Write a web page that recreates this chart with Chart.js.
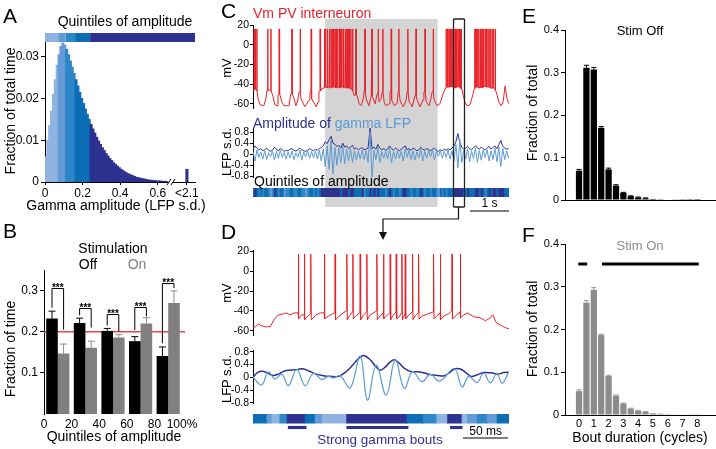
<!DOCTYPE html>
<html>
<head>
<meta charset="utf-8">
<script src="https://cdn.jsdelivr.net/npm/chart.js"></script>
<style>
  body { margin: 0; width: 716px; height: 449px; position: relative; background: #fff; overflow: hidden;
         font-family: 'Liberation Sans', Arial, Helvetica, sans-serif; color: #000; }
  canvas { position: absolute; }
  .t { position: absolute; white-space: nowrap; line-height: 1; transform: translate(-50%, -50%); }
  .l { position: absolute; white-space: nowrap; line-height: 1; }
  .v { position: absolute; white-space: nowrap; line-height: 1; transform: translate(-50%, -50%) rotate(-90deg); }
  .p { position: absolute; font-size: 21px; line-height: 1; }
</style>
</head>
<body>
<canvas id="cA" width="210" height="200" style="left:0;top:0"></canvas>
<canvas id="cB" width="205" height="229" style="left:0;top:220px"></canvas>
<canvas id="cC1" width="290" height="101" style="left:220px;top:15px"></canvas>
<canvas id="cC2" width="290" height="70" style="left:220px;top:116px"></canvas>
<canvas id="cC3" width="290" height="29" style="left:220px;top:186px"></canvas>
<canvas id="cD1" width="290" height="100" style="left:220px;top:243px"></canvas>
<canvas id="cD2" width="290" height="68" style="left:220px;top:343px"></canvas>
<canvas id="cD3" width="290" height="38" style="left:220px;top:411px"></canvas>
<canvas id="cE" width="246" height="215" style="left:470px;top:0"></canvas>
<canvas id="cF" width="246" height="229" style="left:470px;top:220px"></canvas>

<svg style="position:absolute;left:0;top:0" width="716" height="449">
  <polyline points="458.5,207 458.5,219 383,219 383,233" fill="none" stroke="#111" stroke-width="1.2"/>
  <polygon points="379,232 387,232 383,240" fill="#111"/>
</svg>

<div class="p" style="left:3px;top:5px">A</div>
<div class="t" style="left:125px;top:21px;font-size:14px">Quintiles of amplitude</div>
<div class="t" style="left:116px;top:205px;font-size:14px">Gamma amplitude (LFP s.d.)</div>
<div class="v" style="left:10px;top:111px;font-size:14px">Fraction of total time</div>

<div class="p" style="left:3px;top:220px">B</div>
<div class="t" style="left:113px;top:248px;font-size:14px">Stimulation</div>
<div class="t" style="left:88px;top:264px;font-size:14px">Off</div>
<div class="t" style="left:137px;top:264px;font-size:14px;color:#808080">On</div>
<div class="v" style="left:10px;top:349px;font-size:14px">Fraction of time</div>
<div class="t" style="left:114px;top:436px;font-size:14px">Quintiles of amplitude</div>

<div class="p" style="left:221px;top:0">C</div>
<div class="l" style="left:253px;top:6px;font-size:14px;color:#e8222a">Vm PV interneuron</div>
<div class="v" style="left:226px;top:68px;font-size:13px">mV</div>
<div class="l" style="left:253px;top:116px;font-size:14px;color:#2e3192">Amplitude of <span style="color:#5b9bd5">gamma LFP</span></div>
<div class="v" style="left:226px;top:152px;font-size:13px">LFP s.d.</div>
<div class="l" style="left:254px;top:174px;font-size:14px">Quintiles of amplitude</div>

<div class="p" style="left:221px;top:221px">D</div>
<div class="v" style="left:226px;top:293px;font-size:13px">mV</div>
<div class="v" style="left:226px;top:379px;font-size:13px">LFP s.d.</div>
<div class="t" style="left:380px;top:440px;font-size:13.5px;color:#2e3192">Strong gamma bouts</div>

<div class="p" style="left:522px;top:5px">E</div>
<div class="t" style="left:640px;top:30px;font-size:13px">Stim Off</div>
<div class="v" style="left:532px;top:113px;font-size:14px">Fraction of total</div>
<div class="p" style="left:522px;top:224px">F</div>
<div class="t" style="left:640px;top:245px;font-size:13px;color:#8c8c8c">Stim On</div>
<div class="v" style="left:532px;top:329px;font-size:14px">Fraction of total</div>
<div class="t" style="left:640px;top:437px;font-size:14px">Bout duration (cycles)</div>

<script>
// ---------- data ----------
const quintileColors = ['#8fb4e2', '#649bd7', '#2d87c8', '#0c6eb4', '#2d3291'];
const quintileEdges = [0, 0.07, 0.11, 0.16, 0.24];   // lower edge of each quintile (LFP s.d.)

// A: distribution of gamma amplitude, 0.01 s.d. bins
const ampBinWidth = 0.01;
const ampFrac = [
  0.006, 0.010, 0.0135, 0.017, 0.021, 0.0245, 0.028, 0.0305, 0.0325, 0.0333,
  0.0328, 0.0318, 0.0305, 0.029, 0.0275, 0.026, 0.0245, 0.023, 0.0215, 0.020,
  0.0188, 0.0175, 0.0162, 0.015, 0.0138, 0.0127, 0.0117, 0.0107, 0.0098, 0.009,
  0.0082, 0.0075, 0.0068, 0.0062, 0.0056, 0.0051, 0.0046, 0.0042, 0.0038, 0.0034,
  0.0030, 0.0027, 0.0024, 0.0021, 0.0019, 0.0017, 0.0015, 0.0013, 0.0011, 0.0010,
  0.0009, 0.0008, 0.0007, 0.0006, 0.0005, 0.0004, 0.0004, 0.0003, 0.0003, 0.0002,
  0.0002, 0.0002, 0.0001, 0.0001, 0.0001
];
const ampTailFrac = 0.003;          // everything up to 2.1 s.d.
const ampTailX = 0.755;             // axis slot used for the "<2.1" bin
const ampBreakX = 0.67;
const ampTicks = [0, 0.2, 0.4, 0.6, ampTailX];
const ampTickLabels = ['0', '0.2', '0.4', '0.6', '<2.1'];

// B: fraction of time in each quintile
const quintileLabels = ['0-20%', '20-40%', '40-60%', '60-80%', '80-100%'];
const stimOff = [0.232, 0.221, 0.202, 0.177, 0.141];
const stimOffErr = [0.018, 0.012, 0.006, 0.011, 0.022];
const stimOn = [0.147, 0.161, 0.186, 0.220, 0.270];
const stimOnErr = [0.023, 0.016, 0.007, 0.014, 0.029];
const chanceLevel = 0.2;
const sigTop = [0.306, 0.257, 0.243, 0.26, 0.318];
const sigLegOff = [0.258, 0.24, 0.215, 0.204, 0.172];
const sigLegOn = [0.205, 0.21, 0.2, 0.237, 0.306];

// C: 6.56 s of Vm (s, mV) and gamma LFP
const vmPeakC = 16;
const vmCBase = [
  [0.00,-46],[0.13,-55],[0.18,-61],[0.28,-62],[0.33,-55],[0.36,-47],[0.42,-46],[0.51,-52],[0.56,-61],[0.62,-62],
  [0.64,-52],[0.69,-50],[0.74,-58],[0.79,-62],[0.92,-62],[0.97,-50],[1.03,-52],[1.10,-62],[1.15,-56],[1.18,-48],
  [1.23,-55],[1.33,-63],[1.44,-56],[1.46,-48],[1.51,-55],[1.62,-63],[1.67,-58],[1.69,-48],[1.74,-47],[1.79,-44],
  [1.90,-42],[2.00,-44],[2.10,-42],[2.20,-43],[2.30,-42],[2.40,-44],[2.50,-45],[2.56,-47],[2.60,-52],[2.67,-52],
  [2.72,-60],[2.77,-62],[2.82,-56],[2.85,-47],[2.90,-55],[2.97,-62],[3.03,-52],[3.08,-55],[3.13,-60],[3.18,-50],
  [3.23,-58],[3.28,-55],[3.31,-48],[3.36,-58],[3.41,-62],[3.49,-60],[3.51,-48],[3.56,-56],[3.62,-62],[3.69,-60],
  [3.72,-48],[3.77,-57],[3.85,-63],[3.92,-57],[3.95,-48],[4.00,-58],[4.08,-63],[4.15,-52],[4.21,-57],[4.28,-63],
  [4.36,-56],[4.38,-48],[4.44,-58],[4.51,-62],[4.56,-55],[4.59,-48],[4.64,-56],[4.72,-62],[4.79,-60],[4.87,-50],
  [4.92,-45],[5.00,-43],[5.10,-42],[5.20,-44],[5.30,-43],[5.36,-46],[5.39,-52],[5.43,-58],[5.48,-62],[5.56,-61],
  [5.64,-50],[5.67,-45],[5.75,-43],[5.85,-44],[5.95,-42],[6.05,-43],[6.15,-44],[6.22,-46],[6.26,-52],[6.30,-58],
  [6.36,-62],[6.41,-58],[6.46,-42],[6.51,-55],[6.56,-60]
];
const vmCSpikes = [   // [time s, foot mV]
  [0.03,-46],[0.06,-45],[0.10,-47],[0.38,-46],[0.46,-47],[0.67,-50],[1.00,-50],[1.21,-48],[1.49,-48],[1.72,-47],
  [1.83,-44],[1.86,-43],[1.90,-43],[1.92,-44],[1.96,-43],[2.00,-44],[2.03,-43],[2.06,-43],[2.10,-43],[2.13,-44],
  [2.17,-43],[2.21,-43],[2.23,-44],[2.27,-43],[2.31,-43],[2.33,-44],[2.37,-43],[2.41,-44],[2.44,-44],[2.47,-44],
  [2.51,-45],[2.55,-46],
  [2.64,-50],[2.87,-48],[3.05,-52],[3.21,-50],[3.33,-48],[3.54,-48],[3.74,-48],[3.97,-48],[4.18,-52],[4.41,-48],[4.62,-48],
  [4.95,-44],[4.98,-43],[5.02,-43],[5.05,-42],[5.08,-43],[5.12,-43],[5.15,-44],[5.18,-43],[5.21,-43],[5.25,-43],
  [5.28,-43],[5.31,-44],[5.34,-45],
  [5.69,-44],[5.73,-43],[5.76,-43],[5.79,-44],[5.83,-43],[5.87,-44],[5.91,-43],[5.95,-42],[5.98,-43],[6.02,-43],
  [6.05,-43],[6.09,-44],[6.13,-44],[6.17,-44],[6.21,-46]
];
const lfpCStep = 0.05;   // s per sample
const lfpCEnv = [
  0.18,0.30,0.22,0.15,0.20,0.12,0.16,0.22,0.14,0.10, 0.15,0.25,0.18,0.12,0.20,0.16,0.10,0.14,0.12,0.18,
  0.20,0.14,0.11,0.16,0.22,0.15,0.12,0.10,0.14,0.20, 0.16,0.12,0.18,0.14,0.20,0.24,0.30,0.45,0.38,0.52,
  0.65,0.40,0.35,0.28,0.32,0.22,0.40,0.25,0.30,0.20, 0.26,0.32,0.18,0.22,0.16,0.20,0.24,0.15,0.18,0.22,
  0.95,0.20,0.25,0.18,0.35,0.22,0.16,0.20,0.14,0.18, 0.30,0.20,0.15,0.22,0.17,0.12,0.18,0.24,0.30,0.16,
  0.20,0.14,0.22,0.18,0.12,0.16,0.25,0.18,0.14,0.20, 0.16,0.12,0.18,0.22,0.14,0.10,0.16,0.12,0.18,0.14,
  0.20,0.16,0.22,0.30,0.45,0.75,0.40,0.25,0.18,0.22, 0.28,0.20,0.16,0.22,0.30,0.24,0.18,0.26,0.20,0.15,
  0.22,0.28,0.18,0.24,0.30,0.20,0.35,0.50,0.28,0.22, 0.18,0.20
];
const lfpCRaw = [
  0.10,-0.25,0.15,-0.12,0.08,-0.18,0.12,-0.20,0.05,-0.10, 0.12,-0.22,0.10,-0.15,0.14,-0.12,0.06,-0.18,0.08,-0.14,
  0.12,-0.20,0.05,-0.12,0.15,-0.22,0.08,-0.10,0.12,-0.16, 0.10,-0.14,0.12,-0.18,0.15,-0.25,0.20,-0.45,0.30,-0.55,
  0.50,-0.72,0.25,-0.40,0.22,-0.30,0.30,-0.35,0.18,-0.25, 0.20,-0.30,0.12,-0.22,0.10,-0.18,0.15,-0.20,0.12,-0.30,
  0.80,-0.90,0.15,-0.20,0.25,-0.30,0.10,-0.15,0.12,-0.18, 0.22,-0.32,0.10,-0.18,0.12,-0.15,0.10,-0.25,0.20,-0.12,
  0.15,-0.20,0.12,-0.22,0.08,-0.14,0.18,-0.25,0.10,-0.15, 0.12,-0.10,0.14,-0.20,0.10,-0.08,0.12,-0.15,0.10,-0.12,
  0.15,-0.18,0.12,-0.25,0.35,-0.50,0.55,-0.30,0.12,-0.18, 0.20,-0.28,0.12,-0.16,0.22,-0.30,0.14,-0.22,0.15,-0.12,
  0.16,-0.25,0.12,-0.20,0.22,-0.28,0.25,-0.45,0.20,-0.20, 0.12,-0.15
];
const shadeC = [1.85, 4.73];     // stimulation period (s)
const boxC = [5.12, 5.41];       // window expanded in D (s)
const scaleBarC = [5.56, 1];     // start, length (s)

// D: 284 ms expanded window (ms, mV)
const vmPeakD = 17;
const vmDBase = [
  [0,-57],[3,-56],[6,-53],[9,-55],[14,-56],[19,-56],[24,-48],[28,-44],[34,-43],[37,-42],[41,-44],[46,-42],
  [54,-44],[61,-45],[70,-44],[75,-42],[84,-45],[88,-43],[96,-45],[100,-42],[107,-45],[114,-45],[122,-45],
  [130,-44],[134,-42],[141,-45],[148,-45],[155,-45],[162,-46],[172,-45],[180,-45],[188,-45],[194,-43],[197,-42],
  [204,-45],[212,-45],[217,-43],[225,-45],[234,-44],[238,-42],[245,-46],[252,-47],[258,-50],[263,-47],[266,-44],
  [270,-52],[276,-55],[280,-57],[284,-58]
];
const vmDSpikes = [   // [time ms, pre mV, after-hyperpolarisation mV]
  [50.3,-42,-48],[57.0,-44,-49],[64.1,-43,-49],[79.2,-42,-48],[91.1,-42,-49],[104.1,-40,-49],[110.8,-41,-48],
  [118.9,-42,-49],[126.3,-41,-49],[137.4,-40,-49],[144.8,-42,-48],[152.2,-42,-49],[158.9,-41,-48],[165.2,-42,-49],
  [168.9,-43,-48],[177.0,-41,-49],[183.7,-42,-48],[200.3,-41,-48],[207.8,-42,-49],[220.8,-40,-48],[230.0,-41,-47]
];
const lfpDEnv = [
  [0,0.00],[5,0.15],[10,0.19],[16,0.14],[22,0.06],[28,0.10],[35,0.20],[42,0.23],[50,0.25],[55,0.27],[62,0.20],
  [70,0.10],[78,0.05],[85,0.03],[95,0.03],[102,0.15],[108,0.30],[114,0.50],[120,0.66],[124,0.68],[130,0.55],
  [136,0.35],[141,0.22],[147,0.33],[152,0.48],[157,0.55],[162,0.45],[168,0.28],[175,0.18],[185,0.17],[195,0.10],
  [205,0.06],[212,0.05],[218,0.15],[224,0.27],[230,0.26],[236,0.15],[242,0.03],[248,0.07],[256,0.15],[264,0.14],
  [272,0.10],[278,0.15],[284,0.16]
];
const lfpDRaw = [
  [0,0.0],[9.6,-0.24],[17,0.17],[24.4,-0.06],[31.9,0.10],[39.3,-0.26],[48.5,0.25],[57.8,-0.26],[67,0.12],
  [76.3,-0.07],[83.7,0.03],[89.3,-0.02],[96.7,0.05],[107.8,-0.33],[118.9,0.66],[127,-0.72],[136.7,0.38],
  [147.8,-0.56],[157.8,0.55],[167.8,-0.35],[177,0.18],[187.4,-0.14],[196.7,0.09],[207,-0.12],[223.3,0.27],
  [231.9,-0.30],[239.3,0.03],[248.5,-0.17],[255.9,0.13],[263.3,-0.17],[270.7,0.12],[276.3,-0.19],[283.7,0.17]
];
const dQuintileSegs = [   // [start ms, end ms, quintile 0-4]
  [0,15.6,3],[15.6,21,1],[21,30,0],[30,38,2],[38,58,4],[58,69,3],[69,77,1],[77,104,0],[104,171,4],
  [171,189,3],[189,204,2],[204,216,0],[216,232,4],[232,238,0],[238,249,1],[249,260,2],[260,271,1],[271,284,3]
];
const dBouts = [[39,59],[104,172],[219,232]];
const scaleBarD = [233, 50];

// E, F: bout durations (cycles)
const boutBins = [0,0.5,1,1.5,2,2.5,3,3.5,4,4.5,5,5.5,6,6.5,7,7.5,8];
const boutOff = [0.069,0.311,0.307,0.170,0.072,0.034,0.017,0.009,0.006,0.004,0.0025,0.0018,0.0012,0.0008,0.0005,0.0003,0.0002];
const boutOffErr = [0.003,0.006,0.005,0.003,0.003,0.002,0.001,0.001,0.001,0.001,0,0,0,0,0,0,0];
const boutOn = [0.056,0.263,0.293,0.187,0.091,0.045,0.027,0.015,0.010,0.007,0.004,0.003,0.002,0.0015,0.001,0.0008,0.0006];
const boutOnErr = [0.003,0.005,0.005,0.002,0.002,0.002,0.001,0.001,0.001,0.001,0,0,0,0,0,0,0];
const boutOnSig = [[-0.05,0.55],[1.55,8.1]];
const boutOnSigLevel = 0.353;

// ---------- setup ----------
const FONT = "'Liberation Sans', Arial, Helvetica, sans-serif";
Chart.defaults.font.family = FONT;
Chart.defaults.color = '#000';
Chart.defaults.animation = false;
Chart.defaults.events = [];
Chart.defaults.plugins.legend.display = false;
Chart.defaults.plugins.tooltip.enabled = false;

const RED = '#e8222a', NAVY = '#2e3192', LIGHT = '#5b9bd5';

function quintileOf(v) {
  let q = 0;
  quintileEdges.forEach((e, i) => { if (v >= e) q = i; });
  return q;
}

function leftAxis(width, min, max, ticks, size, tickLen, pad) {
  return {
    min, max,
    afterBuildTicks: s => { s.ticks = ticks.map(value => ({ value })); },
    afterFit: s => { s.width = width; },
    ticks: { font: { size }, padding: pad == null ? 2 : pad, autoSkip: false, callback: v => String(v) },
    grid: { drawOnChartArea: false, tickLength: tickLen || 4, color: '#000' },
    border: { color: '#000' }
  };
}

function hiddenX(max) { return { type: 'linear', min: 0, max, display: false, offset: false }; }

function traceSet(points, color, width, tension) {
  return { data: points, borderColor: color, borderWidth: width, pointRadius: 0, tension: tension || 0 };
}

// grey stimulation shading + window box in C
function cDecor(top, bottom, edge) {
  return {
    id: 'cDecor',
    beforeDraw(chart) {
      const { ctx, scales: { x } } = chart;
      const x0 = x.getPixelForValue(shadeC[0]), x1 = x.getPixelForValue(shadeC[1]);
      ctx.save();
      ctx.fillStyle = '#d4d4d4';
      ctx.fillRect(x0, top, x1 - x0, bottom - top);
      ctx.restore();
    },
    afterDraw(chart) {
      const { ctx, scales: { x } } = chart;
      const x0 = Math.round(x.getPixelForValue(boxC[0])) + 0.5;
      const x1 = Math.round(x.getPixelForValue(boxC[1])) + 0.5;
      ctx.save();
      ctx.strokeStyle = '#222';
      ctx.lineWidth = 1.3;
      ctx.beginPath();
      ctx.moveTo(x0, top); ctx.lineTo(x0, bottom);
      ctx.moveTo(x1, top); ctx.lineTo(x1, bottom);
      if (edge === 'top') { ctx.moveTo(x0, top); ctx.lineTo(x1, top); }
      if (edge === 'bottom') { ctx.moveTo(x0, bottom); ctx.lineTo(x1, bottom); }
      ctx.stroke();
      ctx.restore();
    }
  };
}

function scaleBar(bar, label, yBar, yText) {
  return {
    id: 'scaleBar',
    afterDraw(chart) {
      const { ctx, scales: { x } } = chart;
      const x0 = x.getPixelForValue(bar[0]), x1 = x.getPixelForValue(bar[0] + bar[1]);
      ctx.save();
      ctx.strokeStyle = '#000';
      ctx.lineWidth = 1.2;
      ctx.beginPath(); ctx.moveTo(x0, yBar); ctx.lineTo(x1, yBar); ctx.stroke();
      ctx.fillStyle = '#000';
      ctx.font = '12px ' + FONT;
      ctx.textAlign = 'center';
      ctx.textBaseline = 'middle';
      ctx.fillText(label, (x0 + x1) / 2, yText);
      ctx.restore();
    }
  };
}

// ---------- A ----------
const ampCenters = ampFrac.map((_, i) => i * ampBinWidth + ampBinWidth / 2);
const histPoints = ampCenters.map((x, i) => ({ x, y: ampFrac[i] })).concat([{ x: ampTailX, y: ampTailFrac }]);
const histColors = ampCenters.map(c => quintileColors[quintileOf(c)]).concat([quintileColors[4]]);

const stripA = {
  id: 'stripA',
  afterDraw(chart) {
    const { ctx, chartArea, scales: { x } } = chart;
    ctx.save();
    quintileEdges.forEach((e, i) => {
      const x0 = x.getPixelForValue(e);
      const x1 = i < 4 ? x.getPixelForValue(quintileEdges[i + 1]) : chartArea.right;
      ctx.fillStyle = quintileColors[i];
      ctx.fillRect(x0, chartArea.top - 9, x1 - x0, 9);
    });
    const bx = x.getPixelForValue(ampBreakX), by = chartArea.bottom;
    ctx.fillStyle = '#fff';
    ctx.fillRect(bx - 2, by - 2, 4, 4);
    ctx.strokeStyle = '#000';
    ctx.lineWidth = 1;
    ctx.beginPath();
    [-2, 2].forEach(d => { ctx.moveTo(bx + d - 2, by + 3); ctx.lineTo(bx + d + 2, by - 3); });
    ctx.stroke();
    ctx.restore();
  }
};

new Chart(document.getElementById('cA'), {
  type: 'bar',
  data: { datasets: [{ data: histPoints, backgroundColor: histColors, barPercentage: 1, categoryPercentage: 1, inflateAmount: 0.6 }] },
  options: {
    responsive: false,
    layout: { padding: { top: 42, right: 15, bottom: 2, left: 0 } },
    scales: {
      x: {
        type: 'linear', min: 0, max: 0.798, offset: false,
        afterBuildTicks: s => { s.ticks = ampTicks.map(value => ({ value })); },
        afterFit: s => { s.height = 16; },
        ticks: { font: { size: 12 }, padding: 1, maxRotation: 0, autoSkip: false, callback: (v, i) => ampTickLabels[i] },
        grid: { drawOnChartArea: false, tickLength: 3, color: '#000', offset: false },
        border: { color: '#000' }
      },
      y: leftAxis(45, 0, 0.0336, [0, 0.01, 0.02, 0.03], 12)
    }
  },
  plugins: [stripA]
});

// ---------- B ----------
const bDecor = {
  id: 'bDecor',
  beforeDatasetsDraw(chart) {
    const { ctx, chartArea, scales: { y } } = chart;
    const yc = y.getPixelForValue(chanceLevel);
    ctx.save();
    ctx.strokeStyle = '#e5484d';
    ctx.lineWidth = 1.5;
    ctx.beginPath(); ctx.moveTo(chartArea.left, yc); ctx.lineTo(chartArea.right + 3, yc); ctx.stroke();
    ctx.restore();
  },
  afterDatasetsDraw(chart) {
    const { ctx, scales: { y } } = chart;
    const off = chart.getDatasetMeta(0).data, on = chart.getDatasetMeta(1).data;
    ctx.save();
    ctx.lineWidth = 1;
    [[off, stimOff, stimOffErr, '#000'], [on, stimOn, stimOnErr, '#8c8c8c']].forEach(([bars, vals, errs, col]) => {
      ctx.strokeStyle = col;
      ctx.beginPath();
      bars.forEach((b, i) => {
        const y0 = y.getPixelForValue(vals[i]), y1 = y.getPixelForValue(vals[i] + errs[i]);
        ctx.moveTo(b.x, y0); ctx.lineTo(b.x, y1);
        ctx.moveTo(b.x - 3.5, y1); ctx.lineTo(b.x + 3.5, y1);
      });
      ctx.stroke();
    });
    ctx.strokeStyle = '#000';
    ctx.fillStyle = '#000';
    ctx.font = 'bold 10px ' + FONT;
    ctx.textAlign = 'center';
    off.forEach((b, i) => {
      const xa = b.x, xb = on[i].x, yt = Math.round(y.getPixelForValue(sigTop[i])) + 0.5;
      ctx.beginPath();
      ctx.moveTo(xa, y.getPixelForValue(sigLegOff[i])); ctx.lineTo(xa, yt);
      ctx.lineTo(xb, yt); ctx.lineTo(xb, y.getPixelForValue(sigLegOn[i]));
      ctx.stroke();
      ctx.fillText('***', (xa + xb) / 2, yt + 2.5);
    });
    ctx.restore();
  }
};

new Chart(document.getElementById('cB'), {
  type: 'bar',
  data: {
    labels: quintileLabels,
    datasets: [
      { data: stimOff, backgroundColor: '#000', barPercentage: 1, categoryPercentage: 0.84 },
      { data: stimOn, backgroundColor: '#808080', barPercentage: 1, categoryPercentage: 0.84 }
    ]
  },
  options: {
    responsive: false,
    layout: { padding: { top: 50, right: 23, bottom: 19, left: 0 } },
    scales: {
      x: { display: false },
      xq: {
        type: 'linear', position: 'bottom', min: 0, max: 100, offset: false,
        afterBuildTicks: s => { s.ticks = [0, 20, 40, 60, 80, 100].map(value => ({ value })); },
        afterFit: s => { s.height = 16; },
        ticks: { font: { size: 12 }, padding: 3, maxRotation: 0, autoSkip: false, callback: v => v === 100 ? '100%' : String(v) },
        grid: { display: false, drawTicks: false, tickLength: 0, offset: false },
        border: { display: false }
      },
      y: leftAxis(44, 0, 0.35, [0.1, 0.2, 0.3], 12)
    }
  },
  plugins: [bDecor]
});

// ---------- C ----------
const vmCPoints = vmCBase.map(([x, y]) => ({ x, y }));
vmCSpikes.forEach(([t, foot]) => {
  vmCPoints.push({ x: t - 0.004, y: foot }, { x: t, y: vmPeakC }, { x: t + 0.004, y: foot });
});
vmCPoints.sort((a, b) => a.x - b.x);
const cEnd = 6.56;

new Chart(document.getElementById('cC1'), {
  type: 'line',
  data: { datasets: [traceSet(vmCPoints, RED, 1)] },
  options: {
    responsive: false,
    layout: { padding: { top: 10, right: 1, bottom: 3, left: 0 } },
    scales: { x: hiddenX(cEnd), y: leftAxis(33, -65, 20, [20, 0, -20, -40, -60], 10.5, 3, 1) }
  },
  plugins: [cDecor(4, 101, 'top')]
});

new Chart(document.getElementById('cC2'), {
  type: 'line',
  data: {
    datasets: [
      traceSet(lfpCRaw.map((y, i) => ({ x: i * lfpCStep, y })), LIGHT, 1),
      traceSet(lfpCEnv.map((y, i) => ({ x: i * lfpCStep, y })), NAVY, 1)
    ]
  },
  options: {
    responsive: false,
    layout: { padding: { top: 12, right: 1, bottom: 9, left: 0 } },
    scales: { x: hiddenX(cEnd), y: leftAxis(33, -0.83, 0.95, [0.8, 0.4, 0, -0.4, -0.8], 10.5, 3, 1) }
  },
  plugins: [cDecor(0, 70)]
});

new Chart(document.getElementById('cC3'), {
  type: 'bar',
  data: {
    datasets: [{
      data: lfpCEnv.map((v, i) => ({ x: [i * lfpCStep, (i + 1) * lfpCStep], y: 'q' })),
      backgroundColor: lfpCEnv.map(v => quintileColors[quintileOf(v)]),
      barPercentage: 1, categoryPercentage: 1, inflateAmount: 0.5
    }]
  },
  options: {
    responsive: false,
    indexAxis: 'y',
    layout: { padding: { top: 2, right: 1, bottom: 18, left: 33 } },
    scales: { x: hiddenX(cEnd), y: { type: 'category', labels: ['q'], display: false } }
  },
  plugins: [cDecor(0, 21, 'bottom'), scaleBar(scaleBarC, '1 s', 25, 18)]
});

// ---------- D ----------
const vmDPoints = vmDBase.map(([x, y]) => ({ x, y }));
vmDSpikes.forEach(([t, pre, post]) => {
  vmDPoints.push({ x: t - 0.3, y: pre }, { x: t, y: vmPeakD }, { x: t + 0.5, y: post });
});
vmDPoints.sort((a, b) => a.x - b.x);
const dEnd = 284;

new Chart(document.getElementById('cD1'), {
  type: 'line',
  data: { datasets: [traceSet(vmDPoints, RED, 1)] },
  options: {
    responsive: false,
    layout: { padding: { top: 7, right: 1, bottom: 3, left: 0 } },
    scales: { x: hiddenX(dEnd), y: leftAxis(33, -65, 21, [20, 0, -20, -40, -60], 10.5, 3, 1) }
  }
});

new Chart(document.getElementById('cD2'), {
  type: 'line',
  data: {
    datasets: [
      traceSet(lfpDRaw.map(([x, y]) => ({ x, y })), LIGHT, 1.2, 0.4),
      traceSet(lfpDEnv.map(([x, y]) => ({ x, y })), NAVY, 1.5, 0.4)
    ]
  },
  options: {
    responsive: false,
    layout: { padding: { top: 5, right: 1, bottom: 2, left: 0 } },
    scales: { x: hiddenX(dEnd), y: leftAxis(33, -0.83, 0.85, [0.8, 0.4, 0, -0.4, -0.8], 10.5, 3, 1) }
  }
});

new Chart(document.getElementById('cD3'), {
  type: 'bar',
  data: {
    datasets: [
      {
        data: dQuintileSegs.map(([a, b]) => ({ x: [a, b], y: 'strip' })),
        backgroundColor: dQuintileSegs.map(s => quintileColors[s[2]]),
        barPercentage: 1, categoryPercentage: 1, grouped: false, inflateAmount: 0.5
      },
      {
        data: dBouts.map(([a, b]) => ({ x: [a, b], y: 'bout' })),
        backgroundColor: NAVY, barThickness: 2.5, grouped: false
      }
    ]
  },
  options: {
    responsive: false,
    indexAxis: 'y',
    layout: { padding: { top: 3, right: 1, bottom: 17, left: 33 } },
    scales: { x: hiddenX(dEnd), y: { type: 'category', labels: ['strip', 'bout'], display: false } }
  },
  plugins: [scaleBar(scaleBarD, '50 ms', 27, 21)]
});

// ---------- E, F ----------
function boutErr(vals, errs, col) {
  return {
    id: 'boutErr',
    afterDatasetsDraw(chart) {
      const { ctx, scales: { y } } = chart;
      ctx.save();
      ctx.strokeStyle = col;
      ctx.lineWidth = 1;
      ctx.beginPath();
      chart.getDatasetMeta(0).data.forEach((b, i) => {
        if (!errs[i]) return;
        const y0 = y.getPixelForValue(vals[i]), y1 = y.getPixelForValue(vals[i] + errs[i]);
        ctx.moveTo(b.x, y0); ctx.lineTo(b.x, y1);
        ctx.moveTo(b.x - 2.5, y1); ctx.lineTo(b.x + 2.5, y1);
      });
      ctx.stroke();
      ctx.restore();
    }
  };
}

const fSig = {
  id: 'fSig',
  afterDraw(chart) {
    const { ctx, scales: { x, y } } = chart;
    const yy = y.getPixelForValue(boutOnSigLevel);
    ctx.save();
    ctx.strokeStyle = '#000';
    ctx.lineWidth = 3;
    ctx.beginPath();
    boutOnSig.forEach(([a, b]) => { ctx.moveTo(x.getPixelForValue(a), yy); ctx.lineTo(x.getPixelForValue(b), yy); });
    ctx.stroke();
    ctx.restore();
  }
};

function boutChart(id, vals, errs, color, errColor, showTicks, padding, extra) {
  return new Chart(document.getElementById(id), {
    type: 'bar',
    data: { datasets: [{ data: boutBins.map((x, i) => ({ x, y: vals[i] })), backgroundColor: color, barPercentage: 0.85, categoryPercentage: 1 }] },
    options: {
      responsive: false,
      layout: { padding },
      scales: {
        x: {
          type: 'linear', min: -0.95, max: 9.2, offset: false,
          afterBuildTicks: s => { s.ticks = [0, 1, 2, 3, 4, 5, 6, 7, 8].map(value => ({ value })); },
          afterFit: s => { s.height = showTicks ? 14 : 0; },
          ticks: { display: showTicks, font: { size: 11 }, padding: 2, maxRotation: 0, autoSkip: false },
          grid: { drawOnChartArea: false, drawTicks: false, offset: false },
          border: { color: '#000' }
        },
        y: leftAxis(95, 0, 0.4, [0, 0.1, 0.2, 0.3, 0.4], 11)
      }
    },
    plugins: [boutErr(vals, errs, errColor)].concat(extra)
  });
}

boutChart('cE', boutOff, boutOffErr, '#000', '#000', false, { top: 30, right: 1, bottom: 15, left: 0 }, []);
boutChart('cF', boutOn, boutOnErr, '#8c8c8c', '#9a9a9a', true, { top: 24, right: 1, bottom: 20, left: 0 }, [fSig]);
</script>
</body>
</html>
